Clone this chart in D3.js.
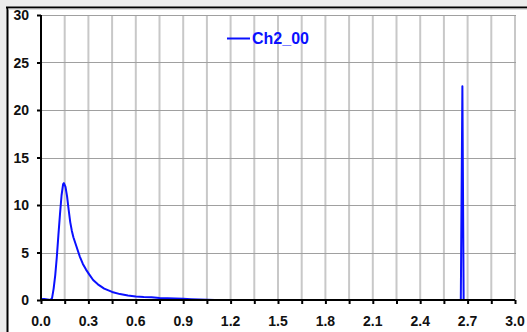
<!DOCTYPE html>
<html><head><meta charset="utf-8">
<script src="https://cdn.jsdelivr.net/npm/d3@7"></script>
<style>html,body{margin:0;padding:0;background:#ececec;overflow:hidden}svg{display:block}</style>
</head><body>
<svg id="c" width="527" height="332"></svg>
<script>
const seriesName = "Ch2_00";
const xValues = [0,0.02,0.04,0.06,0.07,0.08,0.09,0.10,0.11,0.12,0.13,0.14,0.145,0.155,0.165,0.175,0.185,0.195,0.205,0.225,0.245,0.265,0.285,0.305,0.33,0.36,0.40,0.45,0.50,0.55,0.60,0.65,0.70,0.75,0.80,0.85,0.90,0.95,1.00,1.05,1.10,1.5,2.0,2.5,2.657,2.667,2.675,2.8,3.0];
const yValues = [0.1,0.1,0.05,0,0.2,1.2,2.6,4.5,6.8,9.0,11.0,12.2,12.3,11.9,10.9,9.5,8.2,7.3,6.6,5.6,4.6,3.8,3.2,2.7,2.1,1.65,1.2,0.85,0.62,0.48,0.38,0.32,0.28,0.22,0.18,0.15,0.12,0.08,0.05,0.02,0,0,0,0,0,22.5,0,0,0];
const xTickLabels = ["0.0","0.3","0.6","0.9","1.2","1.5","1.8","2.1","2.4","2.7","3.0"];
const yTickLabels = ["0","5","10","15","20","25","30"];

const svg = d3.select("#c");
const L = 41, R = 515, T = 15, B = 300;
svg.append("rect").attr("x",7).attr("y",7).attr("width",540).attr("height",340).attr("fill","#fff");
svg.append("line").attr("x1",6).attr("x2",527).attr("y1",7.5).attr("y2",7.5).attr("stroke","#000").attr("stroke-width",2);
svg.append("line").attr("x1",7.5).attr("x2",7.5).attr("y1",7).attr("y2",332).attr("stroke","#000").attr("stroke-width",2);
svg.append("line").attr("x1",8).attr("x2",527).attr("y1",9).attr("y2",9).attr("stroke","#bbb").attr("stroke-width",1);

const x = d3.scaleLinear().domain([0,3]).range([L,R]);
const y = d3.scaleLinear().domain([0,30]).range([B,T]);
const gridX = d3.range(1,21).map(i=>i*0.15);
const gridY = yTickLabels.map(Number).filter(v=>v>0);

svg.append("g").selectAll("line").data(gridX).join("line")
  .attr("x1",d=>x(d)).attr("x2",d=>x(d)).attr("y1",T).attr("y2",B)
  .attr("stroke","#c8c8c8").attr("stroke-width",2);
svg.append("g").selectAll("line").data(gridY).join("line")
  .attr("x1",L).attr("x2",R+1).attr("y1",d=>Math.round(y(d))+0.5).attr("y2",d=>Math.round(y(d))+0.5)
  .attr("stroke","#a0a0a0").attr("stroke-width",1);

const line = d3.line().x((d,i)=>x(xValues[i])).y(d=>y(d));
svg.append("path").datum(yValues).attr("d",line).attr("fill","none")
  .attr("stroke","#0a10ff").attr("stroke-width",2).attr("stroke-linejoin","round");

const xAxis = d3.axisBottom(x).tickValues([0,...gridX]).tickSize(4).tickFormat(()=>"");
const gx = svg.append("g").attr("transform",`translate(0,${B})`).call(xAxis);
gx.select(".domain").attr("stroke","#000").attr("stroke-width",2).attr("d",`M${L},0H${R}`);
gx.selectAll(".tick line").attr("stroke","#000").attr("stroke-width",2);

svg.append("g").selectAll("text").data(xTickLabels).join("text")
  .attr("x",d=>x(+d)).attr("y",326).attr("text-anchor","middle")
  .attr("font-family","Liberation Sans, Arial, sans-serif").attr("font-weight","bold").attr("font-size",14)
  .attr("fill","#111").text(d=>d);

const yAxis = d3.axisLeft(y).tickValues(yTickLabels.map(Number)).tickSize(4).tickFormat(()=>"");
const gy = svg.append("g").attr("transform",`translate(${L},0)`).call(yAxis);
gy.select(".domain").attr("stroke","#000").attr("stroke-width",2).attr("d",`M0,${T}V${B}`);
gy.selectAll(".tick line").attr("stroke","#000").attr("stroke-width",2);

svg.append("g").selectAll("text").data(yTickLabels).join("text")
  .attr("x",29).attr("y",d=>y(+d)+5).attr("text-anchor","end")
  .attr("font-family","Liberation Sans, Arial, sans-serif").attr("font-weight","bold").attr("font-size",14)
  .attr("fill","#111").text(d=>d);

const lg = svg.append("g");
lg.append("line").attr("x1",227).attr("x2",250).attr("y1",38.5).attr("y2",38.5).attr("stroke","#0a10ff").attr("stroke-width",2);
lg.append("text").attr("x",252).attr("y",44).attr("font-family","Liberation Sans, Arial, sans-serif")
  .attr("font-weight","bold").attr("font-size",16).attr("fill","#0a10ff").text(seriesName);
</script>
</body></html>
